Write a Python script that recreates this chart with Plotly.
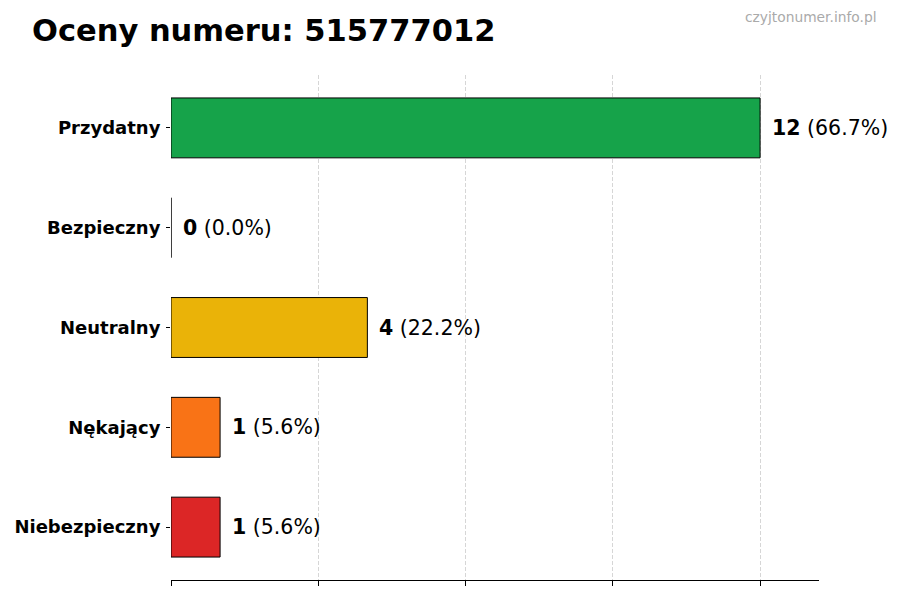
import plotly.graph_objects as go

# ratings for the phone number, top to bottom as shown
categories = ["Przydatny", "Bezpieczny", "Neutralny", "Nękający", "Niebezpieczny"]
counts = [12, 0, 4, 1, 1]
colors = ["#16a34a", "#94a3b8", "#eab308", "#f97316", "#dc2626"]
x_ticks = [0, 3, 6, 9, 12]

total = sum(counts)

# page body adds an 8px margin, so the figure is a bit smaller than the window
W, H = 892, 592
L, R, T, B = 163, 81, 67, 20
plot_w = W - L - R
plot_h = H - T - B

fig = go.Figure()
fig.add_trace(go.Bar(
    x=counts,
    y=categories,
    orientation="h",
    width=0.6,
    marker=dict(color=colors, line=dict(color="black", width=1)),
    hoverinfo="skip",
))

# value labels next to each bar
for cat, val in zip(categories, counts):
    pct = val / total * 100 if total else 0
    fig.add_annotation(
        x=val, y=cat,
        text=f"<b>{val}</b> ({pct:.1f}%)",
        showarrow=False,
        xanchor="left",
        xshift=10,
        font=dict(family="DejaVu Sans", size=20.5, color="black"),
    )

fig.update_layout(
    width=W, height=H,
    margin=dict(l=L, r=R, t=T, b=B, autoexpand=False),
    plot_bgcolor="white",
    paper_bgcolor="white",
    showlegend=False,
    title=dict(
        text="<b>Oceny numeru: 515777012</b>",
        x=24 / W, xanchor="left",
        y=1 - 22 / H, yanchor="middle",
        font=dict(family="DejaVu Sans", size=30.5, color="black"),
    ),
    xaxis=dict(
        range=[0, 13.2],
        tickvals=x_ticks,
        showticklabels=False,
        ticks="outside", ticklen=5, tickcolor="black",
        showline=True, linecolor="black", linewidth=1,
        showgrid=True, gridcolor="#d6d6d6", griddash="4px,2px", gridwidth=1,
        zeroline=False,
        layer="above traces",
    ),
    yaxis=dict(
        categoryorder="array", categoryarray=categories,
        tickvals=categories,
        ticktext=[f"<b>{c}</b>" for c in categories],
        range=[4.53, -0.53],
        automargin=False,
        ticks="outside", ticklen=4, tickcolor="black",
        ticklabelstandoff=2,
        showline=False, showgrid=False, zeroline=False,
        tickfont=dict(family="DejaVu Sans", size=18, color="black"),
    ),
)

fig.add_annotation(
    x=(871 - L) / plot_w, y=1 + (T - 9) / plot_h,
    xref="paper", yref="paper",
    xanchor="right", yanchor="middle",
    text="czyjtonumer.info.pl",
    showarrow=False,
    font=dict(family="DejaVu Sans", size=13.8, color="#aaaaaa"),
)

fig.write_html("out.html")
